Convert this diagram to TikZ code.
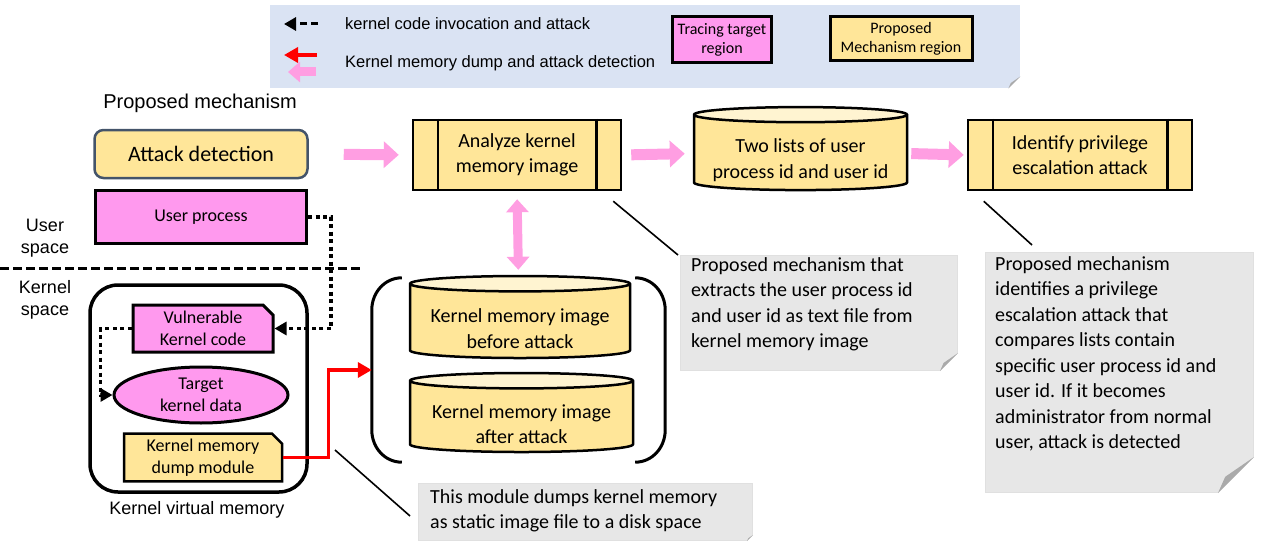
\documentclass[tikz,border=0pt]{standalone}
\usepackage{fontspec}
\setmainfont{Liberation Sans}
\newfontfamily\calib{Carlito}
\usetikzlibrary{arrows.meta,shapes.geometric,shapes.misc}

\definecolor{tracepink}{RGB}{255,153,238}
\definecolor{mechyellow}{RGB}{255,230,153}
\definecolor{arrowpink}{RGB}{255,158,226}
\definecolor{legendbg}{RGB}{218,227,243}
\definecolor{notegray}{RGB}{231,231,231}
\definecolor{foldgray}{RGB}{170,170,170}
\definecolor{detborder}{RGB}{68,84,106}

\tikzset{
  big/.style={font=\calib\fontsize{20}{25.5}\selectfont},
  small/.style={font=\calib\fontsize{18}{22.5}\selectfont},
  trace/.style={draw, line width=3pt, fill=tracepink, small, align=center},
  mech/.style={draw, line width=2.5pt, fill=mechyellow, big, align=center},
  chip/.style={chamfered rectangle, chamfered rectangle corners=north east,
    chamfered rectangle xsep=5pt, chamfered rectangle ysep=5pt},
  db/.style={cylinder, shape border rotate=90, aspect=0.085, draw, line width=2.5pt,
    cylinder uses custom fill, cylinder body fill=mechyellow,
    cylinder end fill=mechyellow!45, big, align=center, inner xsep=1pt, inner ysep=-4pt},
  note/.style={fill=notegray, draw=black!12, line width=1pt, anchor=north west, inner sep=0pt},
  notetxt/.style={big, anchor=north west, align=left, inner sep=0pt},
  invoke/.style={line width=3.5pt, dash pattern=on 4pt off 3.5pt, -{Triangle[length=12pt,width=13pt]}},
  dump/.style={red, line width=3.5pt, -{Triangle[length=14pt,width=15pt]}},
  flow/.style={arrowpink, line width=11pt, -{Triangle[length=15pt,width=26pt]}},
  callout/.style={line width=1.6pt},
  lbl/.style={font=\fontsize{18}{22}\selectfont, align=center},
}

% cut corner of a note, with the fold
\newcommand\fold[2]{
  \fill[white] ([xshift=-#2]#1.south east) -- (#1.south east) -- ([yshift=#2]#1.south east) -- cycle;
  \fill[foldgray] ([xshift=-#2]#1.south east) -- ([yshift=#2]#1.south east)
    -- ([xshift=-0.8*#2,yshift=0.45*#2]#1.south east) -- cycle;
}
% pushes the text of a cylinder down a little
\newcommand\lowtxt{\rule{0pt}{27pt}}

\begin{document}
\begin{tikzpicture}[x=1pt,y=-1pt]
\useasboundingbox (0,0) rectangle (1262,543);

% legend
\node[fill=legendbg, minimum width=750pt, minimum height=83pt, anchor=north west, inner sep=0pt] (legbox) at (270,5) {};
\fold{legbox}{12pt}
\coordinate (k1) at (318,24);
\coordinate (k2) at (284,24);
\draw[invoke, dash pattern=on 7pt off 4pt, line width=3pt] (k1) -- (k2);
\node[anchor=west, inner sep=0pt, font=\fontsize{16.5}{20}\selectfont] (ktxt) at (345,24) {kernel code invocation and attack};
\coordinate (r1) at (317,55);
\coordinate (r2) at (284,55);
\draw[dump, line width=4pt] (r1) -- (r2);
\coordinate (p1) at (316,72);
\coordinate (p2) at (288,72);
\draw[flow, line width=9pt, -{Triangle[length=12pt,width=20pt]}] (p1) -- (p2);
\node[anchor=west, inner sep=0pt, font=\fontsize{16.5}{20}\selectfont] (dtxt) at (345,63) {Kernel memory dump and attack detection};
\node[trace, font=\calib\fontsize{16}{19}\selectfont, minimum width=99pt, minimum height=46pt, inner sep=0pt] (trbox) at (722,40) {Tracing target\\region};
\node[mech, font=\calib\fontsize{16}{19}\selectfont, minimum width=142pt, minimum height=44pt, inner sep=0pt, line width=3pt] (mebox) at (901,39) {Proposed\\Mechanism region};

% user side
\node[font=\fontsize{20}{24}\selectfont] (pmtxt) at (200,103) {Proposed mechanism};
\node[draw=detborder, line width=2.5pt, rounded corners=9pt, fill=mechyellow,
  minimum width=213pt, minimum height=48pt, font=\calib\fontsize{22}{26}\selectfont] (att) at (201,154) {Attack detection};
\node[trace, minimum width=211pt, minimum height=53pt] (up) at (201,217) {User process};
\node[lbl] (usp) at (45,238) {User\\space};
\node[lbl] (ksp) at (45,300) {Kernel\\space};
\coordinate (sp1) at (0,268);
\coordinate (sp2) at (362,268);
\draw[line width=3pt, dash pattern=on 9pt off 4pt] (sp1) -- (sp2);

% kernel virtual memory
\node[draw, line width=3.5pt, rounded corners=28pt, minimum width=217pt, minimum height=207pt] (kvm) at (198.5,388.5) {};
\node[lbl] (kvmtxt) at (197,510) {Kernel virtual memory};
\node[trace, chip, minimum width=140pt, minimum height=47pt, inner sep=0pt] (vuln) at (203,328.5) {Vulnerable\\Kernel code};
\node[trace, ellipse, minimum width=174pt, minimum height=56pt, inner sep=0pt] (tgt) at (201,395) {Target\\kernel data};
\node[mech, small, chip, minimum width=158pt, minimum height=47pt, inner sep=0pt] (dmp) at (203,457.5) {Kernel memory\\dump module};

\draw[invoke] (up.east) -- ++(23,0) |- (vuln.east);
\draw[invoke] (vuln.west) -- ++(-31,0) |- (tgt.west);

% memory images
\node[minimum width=293pt, minimum height=184pt, inner sep=0pt] (imgs) at (518.5,370) {};
\draw[line width=3pt] ([xshift=30pt]imgs.north west) to[out=180,in=90] ([yshift=-32pt]imgs.north west)
  -- ([yshift=32pt]imgs.south west) to[out=-90,in=180] ([xshift=30pt]imgs.south west);
\draw[line width=3pt] ([xshift=-30pt]imgs.north east) to[out=0,in=90] ([yshift=-32pt]imgs.north east)
  -- ([yshift=32pt]imgs.south east) to[out=-90,in=0] ([xshift=-30pt]imgs.south east);
\node[db, minimum width=220pt, minimum height=82pt] (before) at (520,322) {\lowtxt Kernel memory image\\before attack};
\node[db, minimum width=223pt, minimum height=79pt] (after) at (521.5,417.5) {\lowtxt Kernel memory image\\after attack};
\draw[dump] (dmp.east) -- ++(45,0) |- (imgs.west);

% analysis flow
\node[mech, minimum width=208pt, minimum height=70pt] (ana) at (517,155) {Analyze kernel\\memory image};
\node[db, minimum width=213pt, minimum height=83pt] (lists) at (800.5,153.5) {\lowtxt Two lists of user\\process id and user id};
\node[mech, minimum width=224pt, minimum height=70pt] (idf) at (1080,155) {Identify privilege\\escalation attack};
\foreach \n in {ana,idf} {
  \draw[line width=2.5pt] ([xshift=26pt]\n.north west) -- ([xshift=26pt]\n.south west);
  \draw[line width=2.5pt] ([xshift=-26pt]\n.north east) -- ([xshift=-26pt]\n.south east);
}
\draw[flow, shorten <=35pt, shorten >=13pt] (att.east) -- (ana.west);
\draw[flow, shorten <=9pt, shorten >=8pt] (ana.east) -- (lists.west);
\draw[flow, shorten <=3pt, shorten >=3pt] (lists.east) -- (idf.west);
\draw[flow, line width=9pt, {Triangle[length=13pt,width=22pt]}-{Triangle[length=13pt,width=22pt]},
  shorten <=8pt, shorten >=8pt] (ana.south) -- (imgs.north);

% notes
\node[note, minimum width=277pt, minimum height=115pt] (n1) at (680,255) {};
\fold{n1}{18pt}
\node[notetxt] (n1t) at (691,257) {Proposed mechanism that\\extracts the user process id\\and user id as text file from\\kernel memory image};
\node[note, minimum width=268pt, minimum height=240pt] (n2) at (985,252) {};
\fold{n2}{36pt}
\node[notetxt] (n2t) at (995,256) {Proposed mechanism\\identifies a privilege\\escalation attack that\\compares lists contain\\specific user process id and\\user id. If it becomes\\administrator from normal\\user, attack is detected};
\node[note, minimum width=334pt, minimum height=57pt] (n3) at (418,483) {};
\fold{n3}{6pt}
\node[notetxt] (n3t) at (430,489) {This module dumps kernel memory\\as static image file to a disk space};

\draw[callout] ([shift={(-9,10)}]ana.south east) -- ([shift={(-2,0)}]n1.north west);
\draw[callout] ([shift={(17,10)}]idf.south west) -- ([shift={(47,-7)}]n2.north west);
\coordinate (c3) at (335,450);
\draw[callout] (c3) -- ([shift={(-8,4)}]n3.west);
\end{tikzpicture}
\end{document}
